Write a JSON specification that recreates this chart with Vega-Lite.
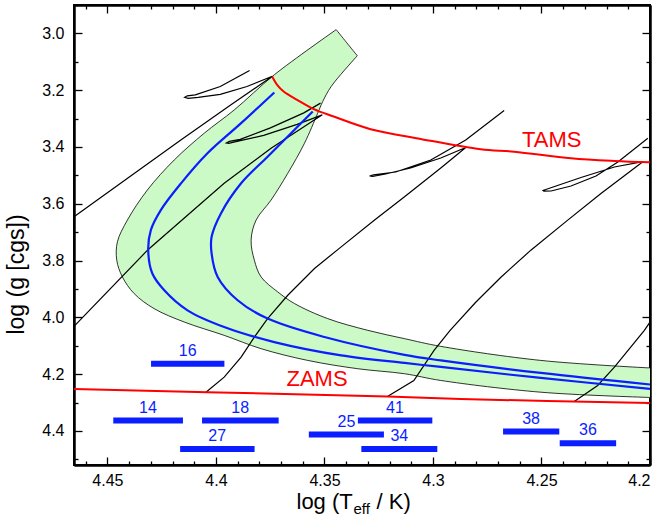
{
  "$schema": "https://vega.github.io/schema/vega-lite/v6.json",
  "width": 576,
  "height": 460,
  "autosize": {"type": "none"},
  "padding": {"left": 74, "top": 5, "right": 16, "bottom": 52},
  "config": {
    "view": {"stroke": "black", "strokeWidth": 2},
    "font": "Liberation Sans",
    "axis": {"grid": false, "domainColor": "black", "domainWidth": 2, "tickColor": "black", "tickWidth": 1.3, "labelColor": "black", "labelFont": "Liberation Sans", "labelFontSize": 16, "titleFont": "Liberation Sans", "titleColor": "black", "titleFontWeight": "normal"}
  },
  "datasets": {
    "band": [
      {"i":1,"x":4.3446,"y":2.9868},{"i":1.5,"x":4.3355,"y":3.0729},{"i":2,"x":4.3349,"y":3.0786},{"i":2.5,"x":4.3355,"y":3.0839},
      {"i":3,"x":4.3469,"y":3.1870},{"i":4,"x":4.3508,"y":3.2399},
      {"i":5,"x":4.3531,"y":3.2809},{"i":6,"x":4.3592,"y":3.3868},{"i":7,"x":4.3669,"y":3.4927},{"i":8,"x":4.3746,"y":3.5869},
      {"i":9,"x":4.3815,"y":3.6575},{"i":10,"x":4.3838,"y":3.7281},{"i":11,"x":4.3823,"y":3.7987},{"i":12,"x":4.3792,"y":3.8576},
      {"i":13,"x":4.3715,"y":3.9106},{"i":14,"x":4.3638,"y":3.9515},{"i":15,"x":4.3485,"y":4.0045},{"i":16,"x":4.3300,"y":4.0458},
      {"i":17,"x":4.3131,"y":4.0751},{"i":18,"x":4.2964,"y":4.1022},{"i":19,"x":4.2503,"y":4.1517},{"i":19.5,"x":4.201,"y":4.1778},{"i":20,"x":4.2,"y":4.1781},
      {"i":21,"x":4.2,"y":4.2823},{"i":21.5,"x":4.201,"y":4.2820},{"i":22,"x":4.2503,"y":4.2636},{"i":23,"x":4.2964,"y":4.2223},{"i":24,"x":4.3131,"y":4.1986},
      {"i":25,"x":4.3346,"y":4.1810},{"i":26,"x":4.3577,"y":4.1517},{"i":27,"x":4.3792,"y":4.1104},{"i":28,"x":4.3962,"y":4.0634},
      {"i":29,"x":4.4146,"y":4.0165},{"i":30,"x":4.4285,"y":3.9692},{"i":31,"x":4.4377,"y":3.9162},{"i":32,"x":4.4431,"y":3.8576},
      {"i":33,"x":4.4457,"y":3.7987},{"i":34,"x":4.4454,"y":3.7341},{"i":35,"x":4.4408,"y":3.6575},{"i":36,"x":4.4316,"y":3.5516},
      {"i":37,"x":4.4192,"y":3.4457},{"i":38,"x":4.4054,"y":3.3515},{"i":39,"x":4.3915,"y":3.2692},{"i":40,"x":4.3731,"y":3.1457},
      {"i":41,"x":4.3446,"y":2.9868}
    ],
    "tracks": [
      {"t":"A","i":1,"x":4.4654,"y":3.6459},{"t":"A","i":2,"x":4.4396,"y":3.5040},{"t":"A","i":3,"x":4.4165,"y":3.3769},
      {"t":"A","i":4,"x":4.3934,"y":3.2533},{"t":"A","i":5,"x":4.3740,"y":3.1510},{"t":"A","i":6,"x":4.3857,"y":3.1870},
      {"t":"A","i":7,"x":4.3980,"y":3.2145},{"t":"A","i":8,"x":4.4082,"y":3.2251},{"t":"A","i":9,"x":4.4128,"y":3.2286},
      {"t":"A","i":10,"x":4.4144,"y":3.2251},{"t":"A","i":11,"x":4.4132,"y":3.2198},{"t":"A","i":12,"x":4.4095,"y":3.2163},
      {"t":"A","i":13,"x":4.3980,"y":3.1870},{"t":"A","i":14,"x":4.3845,"y":3.1305},
      {"t":"B","i":1,"x":4.4654,"y":4.0317},{"t":"B","i":2,"x":4.4312,"y":3.7609},{"t":"B","i":3,"x":4.3962,"y":3.5280},
      {"t":"B","i":4,"x":4.3746,"y":3.4044},{"t":"B","i":5,"x":4.3510,"y":3.2869},{"t":"B","i":6,"x":4.3626,"y":3.3204},
      {"t":"B","i":7,"x":4.3780,"y":3.3592},{"t":"B","i":8,"x":4.3903,"y":3.3804},{"t":"B","i":9,"x":4.3941,"y":3.3875},
      {"t":"B","i":10,"x":4.3952,"y":3.3857},{"t":"B","i":11,"x":4.3938,"y":3.3804},{"t":"B","i":12,"x":4.3888,"y":3.3734},
      {"t":"B","i":13,"x":4.3749,"y":3.3328},{"t":"B","i":14,"x":4.3595,"y":3.2798},{"t":"B","i":15,"x":4.3518,"y":3.2456},
      {"t":"C","i":1,"x":4.4046,"y":4.2636},{"t":"C","i":2,"x":4.3962,"y":4.2106},{"t":"C","i":3,"x":4.3884,"y":4.1400},
      {"t":"C","i":4,"x":4.3823,"y":4.0694},{"t":"C","i":5,"x":4.3762,"y":4.0045},{"t":"C","i":6,"x":4.3669,"y":3.9222},
      {"t":"C","i":7,"x":4.3546,"y":3.8280},{"t":"C","i":8,"x":4.3423,"y":3.7517},{"t":"C","i":9,"x":4.3269,"y":3.6575},
      {"t":"C","i":10,"x":4.3131,"y":3.5753},{"t":"C","i":11,"x":4.2964,"y":3.4740},{"t":"C","i":12,"x":4.2849,"y":3.4016},
      {"t":"C","i":13,"x":4.2964,"y":3.4387},{"t":"C","i":14,"x":4.3103,"y":3.4740},{"t":"C","i":15,"x":4.3218,"y":3.4951},
      {"t":"C","i":16,"x":4.3278,"y":3.5040},{"t":"C","i":17,"x":4.3292,"y":3.5022},{"t":"C","i":18,"x":4.3274,"y":3.4980},
      {"t":"C","i":19,"x":4.3172,"y":3.4881},{"t":"C","i":20,"x":4.3010,"y":3.4457},{"t":"C","i":21,"x":4.2849,"y":3.3751},
      {"t":"C","i":22,"x":4.2672,"y":3.2717},
      {"t":"D","i":1,"x":4.3208,"y":4.2777},{"t":"D","i":2,"x":4.3088,"y":4.2223},{"t":"D","i":3,"x":4.2995,"y":4.1164},
      {"t":"D","i":4,"x":4.2921,"y":4.0458},{"t":"D","i":5,"x":4.2803,"y":3.9469},{"t":"D","i":6,"x":4.2687,"y":3.8587},
      {"t":"D","i":7,"x":4.2549,"y":3.7634},{"t":"D","i":8,"x":4.2379,"y":3.6575},{"t":"D","i":9,"x":4.2226,"y":3.5640},
      {"t":"D","i":10,"x":4.2033,"y":3.4517},{"t":"D","i":11,"x":4.2164,"y":3.4704},{"t":"D","i":12,"x":4.2318,"y":3.5075},
      {"t":"D","i":13,"x":4.2433,"y":3.5375},{"t":"D","i":14,"x":4.2480,"y":3.5498},{"t":"D","i":15,"x":4.2493,"y":3.5534},
      {"t":"D","i":16,"x":4.2489,"y":3.5558},{"t":"D","i":17,"x":4.2456,"y":3.5551},{"t":"D","i":18,"x":4.2364,"y":3.5375},
      {"t":"D","i":19,"x":4.2249,"y":3.5022},{"t":"D","i":20,"x":4.2148,"y":3.4528},{"t":"D","i":21,"x":4.2010,"y":3.3691},
      {"t":"E","i":1,"x":4.2349,"y":4.2964},{"t":"E","i":2,"x":4.2241,"y":4.2399},{"t":"E","i":3,"x":4.2164,"y":4.1753},
      {"t":"E","i":4,"x":4.2026,"y":4.0458},{"t":"E","i":5,"x":4.2000,"y":4.0168}
    ],
    "blue": [
      {"c":"1","i":1,"x":4.3731,"y":3.2082},{"c":"1","i":2,"x":4.3884,"y":3.3162},{"c":"1","i":3,"x":4.4039,"y":3.4221},
      {"c":"1","i":4,"x":4.4161,"y":3.5280},{"c":"1","i":5,"x":4.4254,"y":3.6222},{"c":"1","i":6,"x":4.4300,"y":3.6928},
      {"c":"1","i":7,"x":4.4312,"y":3.7634},{"c":"1","i":8,"x":4.4293,"y":3.8456},{"c":"1","i":9,"x":4.4238,"y":3.9046},
      {"c":"1","i":10,"x":4.4131,"y":3.9752},{"c":"1","i":11,"x":4.3962,"y":4.0341},{"c":"1","i":12,"x":4.3731,"y":4.0871},
      {"c":"1","i":13,"x":4.3423,"y":4.1340},{"c":"1","i":14,"x":4.3131,"y":4.1605},{"c":"1","i":15,"x":4.2964,"y":4.1746},
      {"c":"1","i":16,"x":4.2503,"y":4.2134},{"c":"1","i":17,"x":4.2,"y":4.2516},
      {"c":"2","i":1,"x":4.3554,"y":3.2752},{"c":"2","i":2,"x":4.3654,"y":3.3515},{"c":"2","i":3,"x":4.3762,"y":3.4341},
      {"c":"2","i":4,"x":4.3884,"y":3.5280},{"c":"2","i":5,"x":4.3977,"y":3.6339},{"c":"2","i":6,"x":4.4020,"y":3.7164},
      {"c":"2","i":7,"x":4.4020,"y":3.7750},{"c":"2","i":8,"x":4.3992,"y":3.8576},{"c":"2","i":9,"x":4.3900,"y":3.9399},
      {"c":"2","i":10,"x":4.3762,"y":4.0045},{"c":"2","i":11,"x":4.3500,"y":4.0694},{"c":"2","i":12,"x":4.3131,"y":4.1323},
      {"c":"2","i":13,"x":4.2964,"y":4.1517},{"c":"2","i":14,"x":4.2503,"y":4.1958},{"c":"2","i":15,"x":4.2,"y":4.2364}
    ],
    "red": [
      {"c":"ZAMS","i":1,"x":4.4654,"y":4.2523},{"c":"ZAMS","i":2,"x":4.404,"y":4.2636},{"c":"ZAMS","i":3,"x":4.3209,"y":4.2788},
      {"c":"ZAMS","i":4,"x":4.2872,"y":4.2876},{"c":"ZAMS","i":5,"x":4.2,"y":4.3017},
      {"c":"TAMS","i":1,"x":4.3741,"y":3.1517},{"c":"TAMS","i":2,"x":4.3718,"y":3.1810},{"c":"TAMS","i":3,"x":4.3688,"y":3.2046},
      {"c":"TAMS","i":4,"x":4.3626,"y":3.2339},{"c":"TAMS","i":5,"x":4.3549,"y":3.2667},{"c":"TAMS","i":6,"x":4.3457,"y":3.2929},
      {"c":"TAMS","i":7,"x":4.3287,"y":3.3373},{"c":"TAMS","i":8,"x":4.3057,"y":3.3716},{"c":"TAMS","i":9,"x":4.2780,"y":3.4079},
      {"c":"TAMS","i":10,"x":4.2626,"y":3.4164},{"c":"TAMS","i":11,"x":4.2364,"y":3.4397},{"c":"TAMS","i":12,"x":4.2164,"y":3.4492},
      {"c":"TAMS","i":13,"x":4.2,"y":3.4538}
    ],
    "bars": [
      {"id":"16","x1":4.4299,"x2":4.3961,"xm":4.4130,"y":4.1633},
      {"id":"14","x1":4.4473,"x2":4.4152,"xm":4.4313,"y":4.3635},
      {"id":"18","x1":4.4064,"x2":4.3711,"xm":4.3888,"y":4.3635},
      {"id":"27","x1":4.4165,"x2":4.3822,"xm":4.3994,"y":4.4634},
      {"id":"25","x1":4.3572,"x2":4.3226,"xm":4.3399,"y":4.4129},
      {"id":"41","x1":4.3346,"x2":4.3003,"xm":4.3175,"y":4.3635},
      {"id":"34","x1":4.3330,"x2":4.2980,"xm":4.3155,"y":4.4634},
      {"id":"38","x1":4.2677,"x2":4.2418,"xm":4.2548,"y":4.4023},
      {"id":"36","x1":4.2416,"x2":4.2156,"xm":4.2286,"y":4.4436}
    ],
    "notes": [
      {"label":"ZAMS","x":4.3534,"y":4.2187},
      {"label":"TAMS","x":4.2453,"y":3.3769}
    ]
  },
  "resolve": {"axis": {"x": "independent", "y": "independent"}},
  "layer": [
    {
      "data": {"name": "band"},
      "mark": {"type": "line", "fill": "#ccfac6", "stroke": "black", "strokeWidth": 0.8, "interpolate": "catmull-rom", "clip": true},
      "encoding": {
        "x": {"field": "x", "type": "quantitative", "scale": {"domain": [4.2, 4.4654], "reverse": true, "nice": false, "zero": false},
              "axis": {"orient": "bottom", "values": [4.2, 4.25, 4.3, 4.35, 4.4, 4.45], "format": "~g", "tickSize": -8, "labelPadding": 15,
                       "title": "log (T", "titleFontSize": 22, "titleX": 222, "titleY": 43, "titleAlign": "left", "titleBaseline": "alphabetic"}},
        "y": {"field": "y", "type": "quantitative", "scale": {"domain": [2.9, 4.52], "reverse": true, "nice": false, "zero": false},
              "axis": {"orient": "left", "values": [3.0, 3.2, 3.4, 3.6, 3.8, 4.0, 4.2, 4.4], "format": ".1f", "tickSize": -8, "labelPadding": 18,
                       "title": "log (g [cgs])", "titleFontSize": 23, "titleX": -51, "titleY": 269, "titleAlign": "center", "titleBaseline": "alphabetic", "titleAngle": -90}},
        "order": {"field": "i", "type": "quantitative"}
      }
    },
    {
      "data": {"name": "tracks"},
      "mark": {"type": "line", "stroke": "black", "strokeWidth": 1.2},
      "encoding": {
        "x": {"field": "x", "type": "quantitative", "scale": {"domain": [4.2, 4.4654], "reverse": true, "nice": false, "zero": false},
              "axis": {"orient": "bottom", "values": [4.21,4.22,4.23,4.24,4.26,4.27,4.28,4.29,4.31,4.32,4.33,4.34,4.36,4.37,4.38,4.39,4.41,4.42,4.43,4.44,4.46], "tickSize": -4, "labels": false, "title": null}},
        "y": {"field": "y", "type": "quantitative", "scale": {"domain": [2.9, 4.52], "reverse": true, "nice": false, "zero": false},
              "axis": {"orient": "left", "values": [2.9, 3.1, 3.3, 3.5, 3.7, 3.9, 4.1, 4.3, 4.5], "tickSize": -4, "labels": false, "title": null}},
        "detail": {"field": "t"},
        "order": {"field": "i", "type": "quantitative"}
      }
    },
    {
      "data": {"name": "blue"},
      "mark": {"type": "line", "stroke": "#0a1eff", "strokeWidth": 2.2, "interpolate": "catmull-rom"},
      "encoding": {
        "x": {"field": "x", "type": "quantitative", "scale": {"domain": [4.2, 4.4654], "reverse": true, "nice": false, "zero": false},
              "axis": {"orient": "top", "values": [4.2, 4.25, 4.3, 4.35, 4.4, 4.45], "tickSize": -8, "labels": false, "title": null}},
        "y": {"field": "y", "type": "quantitative", "scale": {"domain": [2.9, 4.52], "reverse": true, "nice": false, "zero": false},
              "axis": {"orient": "right", "values": [3.0, 3.2, 3.4, 3.6, 3.8, 4.0, 4.2, 4.4], "tickSize": -8, "labels": false, "title": null}},
        "detail": {"field": "c"},
        "order": {"field": "i", "type": "quantitative"}
      }
    },
    {
      "data": {"name": "red"},
      "mark": {"type": "line", "stroke": "#ff0000", "strokeWidth": 2, "interpolate": "catmull-rom"},
      "encoding": {
        "x": {"field": "x", "type": "quantitative", "scale": {"domain": [4.2, 4.4654], "reverse": true, "nice": false, "zero": false},
              "axis": {"orient": "top", "values": [4.21,4.22,4.23,4.24,4.26,4.27,4.28,4.29,4.31,4.32,4.33,4.34,4.36,4.37,4.38,4.39,4.41,4.42,4.43,4.44,4.46], "tickSize": -4, "labels": false, "title": null}},
        "y": {"field": "y", "type": "quantitative", "scale": {"domain": [2.9, 4.52], "reverse": true, "nice": false, "zero": false},
              "axis": {"orient": "right", "values": [2.9, 3.1, 3.3, 3.5, 3.7, 3.9, 4.1, 4.3, 4.5], "tickSize": -4, "labels": false, "title": null}},
        "detail": {"field": "c"},
        "order": {"field": "i", "type": "quantitative"}
      }
    },
    {
      "data": {"name": "bars"},
      "mark": {"type": "rule", "stroke": "#0a1eff", "strokeWidth": 6, "strokeCap": "butt"},
      "encoding": {
        "x": {"field": "x1", "type": "quantitative", "scale": {"domain": [4.2, 4.4654], "reverse": true, "nice": false, "zero": false},
              "axis": {"orient": "bottom", "ticks": false, "labels": false, "domain": false, "title": "eff", "titleFontSize": 15, "titleX": 279, "titleY": 48, "titleAlign": "left", "titleBaseline": "alphabetic"}},
        "x2": {"field": "x2"},
        "y": {"field": "y", "type": "quantitative", "scale": {"domain": [2.9, 4.52], "reverse": true, "nice": false, "zero": false}, "axis": null}
      }
    },
    {
      "data": {"name": "bars"},
      "mark": {"type": "text", "color": "#0a1eff", "fontSize": 16, "font": "Liberation Sans", "baseline": "middle", "align": "center", "dy": -13},
      "encoding": {
        "x": {"field": "xm", "type": "quantitative", "scale": {"domain": [4.2, 4.4654], "reverse": true, "nice": false, "zero": false},
              "axis": {"orient": "bottom", "ticks": false, "labels": false, "domain": false, "title": "/ K)", "titleFontSize": 22, "titleX": 302, "titleY": 43, "titleAlign": "left", "titleBaseline": "alphabetic"}},
        "y": {"field": "y", "type": "quantitative", "scale": {"domain": [2.9, 4.52], "reverse": true, "nice": false, "zero": false}, "axis": null},
        "text": {"field": "id"}
      }
    },
    {
      "data": {"name": "notes"},
      "mark": {"type": "text", "color": "#ff0000", "fontSize": 22, "font": "Liberation Sans", "baseline": "middle", "align": "center"},
      "encoding": {
        "x": {"field": "x", "type": "quantitative", "scale": {"domain": [4.2, 4.4654], "reverse": true, "nice": false, "zero": false}, "axis": null},
        "y": {"field": "y", "type": "quantitative", "scale": {"domain": [2.9, 4.52], "reverse": true, "nice": false, "zero": false}, "axis": null},
        "text": {"field": "label"}
      }
    }
  ]
}
